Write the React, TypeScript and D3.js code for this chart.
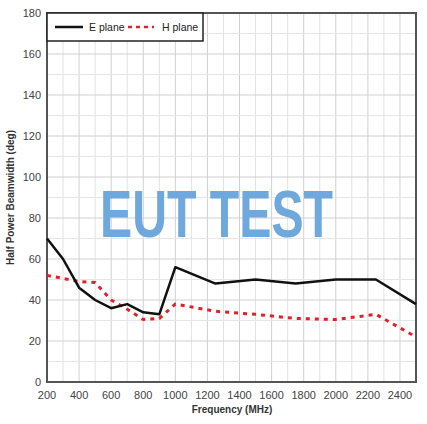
import React from "react";
import * as d3 from "d3";

const freqE = [200, 300, 400, 500, 600, 700, 800, 900, 1000, 1250, 1500, 1750, 2000, 2250, 2500];
const ePlane = [70, 60, 46, 40, 36, 38, 34, 33, 56, 48, 50, 48, 50, 50, 38];
const freqH = [200, 300, 400, 500, 600, 700, 800, 900, 1000, 1250, 1500, 1750, 2000, 2250, 2500];
const hPlane = [52, 50.5, 49, 48.5, 40, 35.5, 30.5, 31, 38, 34.5, 33, 31, 30.5, 33, 22];
const xTicks = [200, 400, 600, 800, 1000, 1200, 1400, 1600, 1800, 2000, 2200, 2400];
const yTicks = [0, 20, 40, 60, 80, 100, 120, 140, 160, 180];
const legendLabels = ["E plane", "H plane"];

const W = 427, H = 424;
const L = 47, R = 416, T = 13, B = 382;

export default function App() {
  const x = d3.scaleLinear().domain([200, 2500]).range([L, R]);
  const y = d3.scaleLinear().domain([0, 180]).range([B, T]);
  const line = d3.line<[number, number]>().x(d => x(d[0])).y(d => y(d[1]));
  const eData: [number, number][] = freqE.map((f, i) => [f, ePlane[i]]);
  const hData: [number, number][] = freqH.map((f, i) => [f, hPlane[i]]);
  const vGrid = d3.range(300, 2500, 100);
  const hGrid = d3.range(10, 180, 10);
  const font = "Liberation Sans, Arial, sans-serif";
  return (
    <svg width={W} height={H} style={{ position: "absolute", left: 0, top: 0, background: "#fff" }} fontFamily={font}>
      <rect x={0} y={0} width={W} height={H} fill="#fff" />
      {vGrid.map(v => (
        <line key={"v" + v} x1={x(v)} x2={x(v)} y1={T} y2={B} stroke={v % 200 === 0 ? "#d0d0d0" : "#e2e2e2"} strokeWidth={1} />
      ))}
      {hGrid.map(v => (
        <line key={"h" + v} x1={L} x2={R} y1={y(v)} y2={y(v)} stroke={v % 20 === 0 ? "#d0d0d0" : "#e6e6e6"} strokeWidth={1} />
      ))}
      <rect x={L} y={T} width={R - L} height={B - T} fill="none" stroke="#555" strokeWidth={2} />
      <path d={line(hData) || ""} fill="none" stroke="#e0202a" strokeWidth={3} strokeDasharray="4,5" />
      <path d={line(eData) || ""} fill="none" stroke="#111" strokeWidth={2.5} strokeLinejoin="round" />
      {yTicks.map(t => (
        <text key={"yt" + t} x={41} y={y(t) + 4} textAnchor="end" fontSize={11} fill="#444">{t}</text>
      ))}
      {xTicks.map(t => (
        <text key={"xt" + t} x={x(t)} y={399} textAnchor="middle" fontSize={11} fill="#444">{t}</text>
      ))}
      <text x={232} y={413} textAnchor="middle" fontSize={10} fontWeight="bold" fill="#333">Frequency (MHz)</text>
      <text transform={`translate(14, ${(T + B) / 2}) rotate(-90)`} textAnchor="middle" fontSize={10} fontWeight="bold" fill="#333">Half Power Beamwidth (deg)</text>
      <rect x={L} y={T} width={156} height={28} fill="#fff" stroke="#222" strokeWidth={1.5} />
      <line x1={55} x2={83} y1={27} y2={27} stroke="#111" strokeWidth={2.5} />
      <text x={89} y={31} fontSize={10.5} fill="#222">{legendLabels[0]}</text>
      <line x1={128} x2={154} y1={27} y2={27} stroke="#e0202a" strokeWidth={2.5} strokeDasharray="4,4" />
      <text x={162} y={31} fontSize={10.5} fill="#222">{legendLabels[1]}</text>
      <text x={100} y={237} fontSize={67} fontWeight="bold" fill="#6fa8dc" textLength={233} lengthAdjust="spacingAndGlyphs" fontFamily="Liberation Sans, Arial, sans-serif">EUT TEST</text>
    </svg>
  );
}
